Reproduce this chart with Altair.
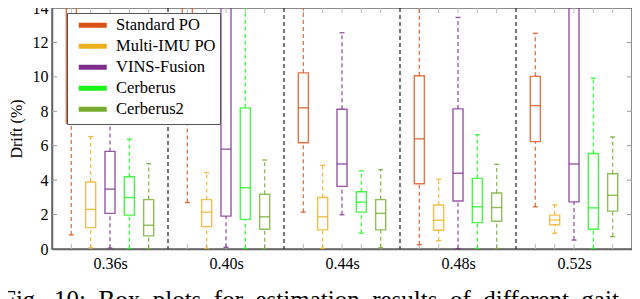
import altair as alt
import pandas as pd

groups = ["0.36s", "0.40s", "0.44s", "0.48s", "0.52s"]
methods = ["Standard PO", "Multi-IMU PO", "VINS-Fusion", "Cerberus", "Cerberus2"]
colors = ["#D95319", "#EDB120", "#7E2F8E", "#1AF51A", "#77AC30"]

# per method, one value per gait group
std_lower = [0.82, 2.70, 2.14, 0.25, 2.45]
std_q1 = [7.30, 9.00, 6.17, 3.79, 6.24]
std_med = [11.36, 12.50, 8.20, 6.40, 8.33]
std_q3 = [16.0, 17.0, 10.23, 10.06, 10.03]
std_upper = [25.0, 28.0, 15.5, 15.5, 12.53]

imu_lower = [0.06, 0.03, 0.03, 0.48, 0.92]
imu_q1 = [1.24, 1.30, 1.11, 1.09, 1.41]
imu_med = [2.30, 2.14, 1.87, 1.67, 1.68]
imu_q3 = [3.89, 2.87, 2.99, 2.56, 1.97]
imu_upper = [6.53, 4.44, 4.86, 4.06, 2.56]

vins_lower = [0.05, 0.10, 1.99, 0.02, 0.52]
vins_q1 = [2.07, 1.91, 3.64, 2.79, 2.74]
vins_med = [3.48, 5.80, 4.94, 4.40, 4.94]
vins_q3 = [5.67, 16.0, 8.12, 8.14, 18.0]
vins_upper = [9.5, 22.0, 12.56, 13.45, 24.0]

cer_lower = [0.02, 0.02, 0.92, 0.02, 0.02]
cer_q1 = [1.97, 1.72, 2.14, 1.53, 1.15]
cer_med = [2.99, 3.56, 2.72, 2.45, 2.39]
cer_q3 = [4.20, 8.20, 3.33, 4.10, 5.55]
cer_upper = [6.38, 15.0, 4.54, 6.64, 9.92]

cer2_lower = [0.02, 0.02, 0.07, 0.02, 0.72]
cer2_q1 = [0.76, 1.15, 1.11, 1.61, 2.20]
cer2_med = [1.38, 1.87, 2.07, 2.41, 3.12]
cer2_q3 = [2.87, 3.18, 2.87, 3.25, 4.37]
cer2_upper = [4.96, 5.17, 4.61, 4.92, 6.51]

y_ticks = [0, 2, 4, 6, 8, 10, 12, 14]
caption_words = ["Fig.", "10:", "Box", "plots", "for", "estimation", "results", "of", "different", "gait"]
caption = "\u00a0\u00a0".join(caption_words)

stats = {
    "Standard PO": (std_lower, std_q1, std_med, std_q3, std_upper),
    "Multi-IMU PO": (imu_lower, imu_q1, imu_med, imu_q3, imu_upper),
    "VINS-Fusion": (vins_lower, vins_q1, vins_med, vins_q3, vins_upper),
    "Cerberus": (cer_lower, cer_q1, cer_med, cer_q3, cer_upper),
    "Cerberus2": (cer2_lower, cer2_q1, cer2_med, cer2_q3, cer2_upper),
}

slots = len(methods) + 1
rows = []
for gi, g in enumerate(groups):
    for mi, m in enumerate(methods):
        lo, q1, md, q3, up = stats[m]
        rows.append(dict(group=g, method=m, pos=gi * slots + mi + 1,
                         lower=lo[gi], q1=q1[gi], median=md[gi], q3=q3[gi], upper=up[gi]))
df = pd.DataFrame(rows)
df_sep = pd.DataFrame({"x": [slots * (i + 1) for i in range(len(groups) - 1)]})
df_ytick = pd.DataFrame({"y": y_ticks[1:-1]})
df_cap = pd.DataFrame({"text": [caption]})

W, H = 580, 241
XMAX = slots * len(groups)
HALF = 0.26
CAPH = 0.13
FONT = "'Liberation Serif', 'Times New Roman', Times, serif"

xscale = alt.Scale(domain=[0, XMAX], nice=False, zero=False)
yscale = alt.Scale(domain=[0, 14], nice=False, zero=False)
label_expr = "[" + ",".join("'%s'" % g for g in groups) + "][floor(datum.value/%d)]" % slots

xaxis = alt.Axis(values=[gi * slots + slots / 2 for gi in range(len(groups))], labelExpr=label_expr,
                 ticks=False, title=None, labelFont=FONT, labelFontSize=16, labelColor="black",
                 labelPadding=6, domainColor="#666", domainWidth=1.5, grid=False)
yaxis = alt.Axis(values=y_ticks, ticks=False, title="Drift (%)", labelFont=FONT, labelFontSize=16,
                 labelColor="black", labelPadding=4, titleFont=FONT, titleFontSize=16,
                 titleFontWeight="normal", titleColor="black", titlePadding=8,
                 domainColor="#666", domainWidth=1.5, grid=False)

legend = alt.Legend(
    title=None, orient="none", legendX=15, legendY=5, padding=4,
    strokeColor="#555", fillColor="white", symbolType="M-2.8,0L2.8,0",
    symbolSize=100, symbolStrokeWidth=5, symbolOpacity=1, symbolOffset=13.5,
    labelOffset=15, labelFont=FONT, labelFontSize=16.5, labelColor="black",
    rowPadding=0, labelLimit=300)
cscale = alt.Scale(domain=methods, range=colors)
S = alt.Stroke("method:N", scale=cscale, legend=legend)

X = alt.X("pos:Q", scale=xscale, axis=xaxis)
base = alt.Chart(df).transform_calculate(
    x0="datum.pos - %f" % HALF, x1="datum.pos + %f" % HALF,
    c0="datum.pos - %f" % CAPH, c1="datum.pos + %f" % CAPH)

seps = alt.Chart(df_sep).mark_rule(color="#222", strokeDash=[4, 3], strokeWidth=1.2).encode(
    x=alt.X("x:Q", scale=xscale, axis=xaxis))
bot_ticks = base.mark_rule(color="#bbb", strokeWidth=1).encode(x=X, y=alt.value(H), y2=alt.value(H - 5))
top_ticks = base.mark_rule(color="#bbb", strokeWidth=1).encode(x=X, y=alt.value(0), y2=alt.value(5))
left_ticks = alt.Chart(df_ytick).mark_rule(color="#999", strokeWidth=1).encode(
    y=alt.Y("y:Q", scale=yscale, axis=yaxis), x=alt.value(0), x2=alt.value(5))
right_ticks = alt.Chart(df_ytick).mark_rule(color="#999", strokeWidth=1).encode(
    y=alt.Y("y:Q", scale=yscale, axis=yaxis), x=alt.value(W - 5), x2=alt.value(W))

wlow = base.mark_rule(strokeDash=[4, 3], strokeWidth=1.3, strokeOpacity=0.8, clip=True).encode(
    x=X, y=alt.Y("lower:Q", scale=yscale, axis=yaxis), y2="q1:Q", stroke=S)
wup = base.mark_rule(strokeDash=[4, 3], strokeWidth=1.3, strokeOpacity=0.8, clip=True).encode(
    x=X, y=alt.Y("q3:Q", scale=yscale, axis=yaxis), y2="upper:Q", stroke=S)
cap_lo = base.mark_rule(strokeWidth=1.3, strokeOpacity=0.85, clip=True).encode(
    x=alt.X("c0:Q", scale=xscale, axis=xaxis), x2="c1:Q",
    y=alt.Y("lower:Q", scale=yscale, axis=yaxis), stroke=S)
cap_up = base.mark_rule(strokeWidth=1.3, strokeOpacity=0.85, clip=True).encode(
    x=alt.X("c0:Q", scale=xscale, axis=xaxis), x2="c1:Q",
    y=alt.Y("upper:Q", scale=yscale, axis=yaxis), stroke=S)
box = base.mark_rect(fill="transparent", strokeWidth=1.4, strokeOpacity=0.8, clip=True).encode(
    x=alt.X("x0:Q", scale=xscale, axis=xaxis), x2="x1:Q",
    y=alt.Y("q1:Q", scale=yscale, axis=yaxis), y2="q3:Q", stroke=S)
med = base.mark_rule(strokeWidth=1.4, strokeOpacity=0.8, clip=True).encode(
    x=alt.X("x0:Q", scale=xscale, axis=xaxis), x2="x1:Q",
    y=alt.Y("median:Q", scale=yscale, axis=yaxis), stroke=S)

cap_text = alt.Chart(df_cap).mark_text(align="left", baseline="alphabetic", font=FONT,
                                       fontSize=25, color="black").encode(
    x=alt.value(-50), y=alt.value(H + 59), text="text:N")

chart = alt.layer(seps, bot_ticks, top_ticks, left_ticks, right_ticks, wlow, wup, cap_lo, cap_up,
                  box, med, cap_text).properties(
    width=W, height=H,
    autosize=alt.AutoSizeParams(type="none"),
    padding={"left": 44, "top": 0, "right": 0, "bottom": 60},
).configure(font=FONT).configure_view(stroke="#666", strokeWidth=1.5).configure_axis(
    labelFont=FONT, titleFont=FONT).configure_legend(labelFont=FONT)

chart.save("out.html", embed_options={"renderer": "svg", "actions": False})
